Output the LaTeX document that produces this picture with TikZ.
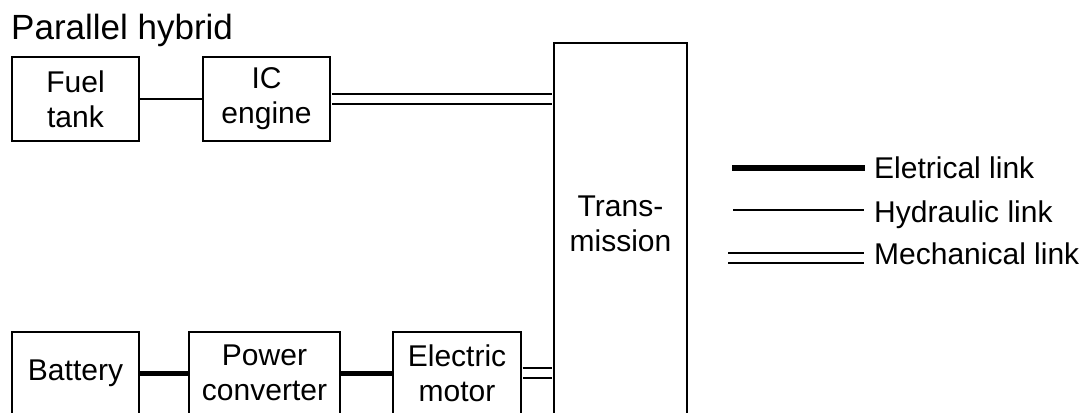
\documentclass[tikz,border=0pt]{standalone}
\usepackage{fontspec}
\setmainfont{Liberation Sans}
\usetikzlibrary{positioning}

\begin{document}
\begin{tikzpicture}[x=1pt, y=-1pt,
    box/.style={draw, line width=1.6pt, inner sep=0pt, align=center, font=\fontsize{30}{35}\selectfont},
    lbl/.style={inner sep=0pt, font=\fontsize{30}{35}\selectfont},
    elec/.style={line width=5pt},
    hyd/.style={line width=1.6pt},
    mech/.style={double, line width=1.6pt, double distance=8pt}]
    \useasboundingbox (0,0) rectangle (1091,412);
    \clip (0,0) rectangle (1091,412);

    % title
    \node[anchor=base west, inner sep=0pt, font=\fontsize{35}{40}\selectfont] (title) at (11,40) {Parallel hybrid};

    % engine branch
    \node[box, minimum width=127, minimum height=84] (tank) at (75.5,99) {Fuel\\tank};
    \node[box, minimum width=127, minimum height=84] (ice) at (266.5,99) {IC\\engine};

    % electric branch
    \node[box, minimum width=127, minimum height=82] (batt) at (75.5,373) {Battery};
    \node[box, minimum width=151, minimum height=82] (conv) at (264.5,373) {Power\\converter};
    \node[box, minimum width=128, minimum height=82] (motor) at (457,373) {Electric\\motor};

    % transmission
    \node[box, minimum width=133, minimum height=420, anchor=north] (trans) at (620.5,42) {};
    \node[lbl, align=center] (transtxt) at (620.5,224) {Trans-\\mission};

    \draw[hyd] (tank) -- (ice);
    \draw[mech, shorten <=0.8pt, shorten >=0.8pt] (ice.east) -- (ice.east -| trans.west);
    \draw[elec] (batt) -- (conv);
    \draw[elec] (conv) -- (motor);
    \draw[mech, shorten <=0.8pt, shorten >=0.8pt] (motor.east) -- (motor.east -| trans.west);

    % legend
    \coordinate (elA) at (732,168);
    \coordinate (elB) at (865,168);
    \coordinate (hyA) at (733,210);
    \coordinate (hyB) at (864,210);
    \coordinate (meA) at (728,258);
    \coordinate (meB) at (864,258);
    \draw[line width=6.5pt] (elA) -- (elB);
    \draw[hyd] (hyA) -- (hyB);
    \draw[mech] (meA) -- (meB);
    \node[lbl, anchor=base west] (eltxt) at (874,178) {Eletrical link};
    \node[lbl, anchor=base west] (hytxt) at (874,222) {Hydraulic link};
    \node[lbl, anchor=base west] (metxt) at (874,264) {Mechanical link};
\end{tikzpicture}
\end{document}
